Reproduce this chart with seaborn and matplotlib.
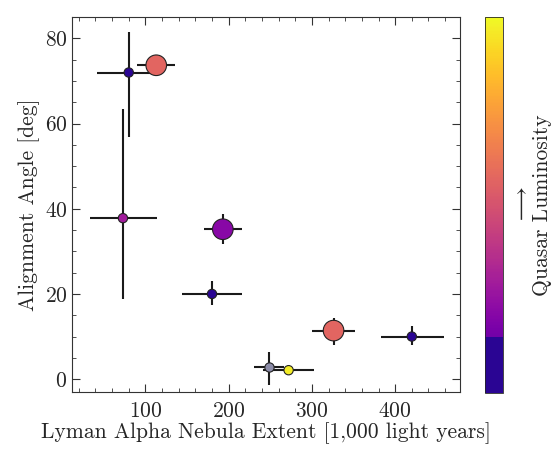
import numpy as np
import pandas as pd
import seaborn as sns
import matplotlib.pyplot as plt
from matplotlib.colors import ListedColormap, Normalize
from matplotlib.ticker import MultipleLocator
import warnings
warnings.filterwarnings("ignore")

# nebula extent [1,000 ly], alignment angle [deg] and their errors
extent = [80, 113, 73, 193, 180, 248, 272, 326, 420]
angle = [72, 73.7, 37.8, 35.2, 20, 2.9, 2.1, 11.4, 10]
extent_lo = [38, 23, 40, 23, 36.5, 18, 31, 26, 37.5]
extent_hi = [38, 23, 41, 23, 36.5, 18, 31, 26, 38.5]
angle_lo = [15.2, 2, 19, 3.5, 2.5, 4.3, 0, 3.5, 2.1]
angle_hi = [9.5, 2, 25.6, 3.5, 3, 3.5, 0, 3, 2.4]
luminosity = [0.05, 0.57, 0.29, 0.215, 0.05, 0.05, 0.967, 0.57, 0.05]
size_class = ["small", "large", "small", "large", "small", "faded", "small", "large", "small"]

sns.set_style("ticks")
plt.rcParams["font.family"] = "serif"
plt.rcParams["font.serif"] = ["cmr10", "DejaVu Serif"]
plt.rcParams["mathtext.fontset"] = "cm"
plt.rcParams["axes.formatter.use_mathtext"] = True
plt.rcParams["axes.unicode_minus"] = False

# plasma with a flat bottom block, like the reference colour bar
plasma = plt.get_cmap("plasma")
block = [plasma(0.05)] * 38
ramp = [plasma(v) for v in np.linspace(0.22, 1.0, 218)]
cmap = ListedColormap(block + ramp)
norm = Normalize(0, 1)

df = pd.DataFrame({"extent": extent, "angle": angle, "lum": luminosity, "cls": size_class})

fig = plt.figure(figsize=(5.55, 4.51), dpi=100)
ax = fig.add_axes([0.130, 0.131, 0.699, 0.831])
cax = fig.add_axes([0.874, 0.129, 0.033, 0.834])

ax.errorbar(extent, angle, xerr=[extent_lo, extent_hi], yerr=[angle_lo, angle_hi],
            fmt="none", ecolor="#1a1a1a", elinewidth=1.5, capsize=0, zorder=1)

main = df[df["cls"] != "faded"]
sns.scatterplot(data=main, x="extent", y="angle", hue="lum", palette=cmap, hue_norm=norm,
                size="cls", sizes={"small": 45, "large": 220}, edgecolor="#222222",
                linewidth=0.8, legend=False, ax=ax, zorder=3)
faded = df[df["cls"] == "faded"]
sns.scatterplot(data=faded, x="extent", y="angle", color="#8c8ca8",
                s=45, edgecolor="#222222", linewidth=0.8,
                legend=False, ax=ax, zorder=3)

ax.set_xlim(12, 478)
ax.set_ylim(-3, 85)
ax.xaxis.set_major_locator(MultipleLocator(100))
ax.xaxis.set_minor_locator(MultipleLocator(20))
ax.yaxis.set_major_locator(MultipleLocator(20))
ax.yaxis.set_minor_locator(MultipleLocator(5))
ax.tick_params(which="both", direction="in", top=True, right=True, labelsize=15.5, color="#333333")
ax.tick_params(which="major", length=6)
ax.tick_params(which="minor", length=3)
ax.tick_params(axis="x", which="major", pad=7)
for s in ax.spines.values():
    s.set_color("#333333")

ax.set_xlabel("Lyman Alpha Nebula Extent [1,000 light years]", fontsize=15.5, labelpad=1)
ax.set_ylabel("Alignment Angle [deg]", fontsize=15.5, labelpad=3)

sm = plt.cm.ScalarMappable(cmap=cmap, norm=norm)
cb = fig.colorbar(sm, cax=cax)
cb.set_ticks([])
cb.outline.set_linewidth(0.6)
cb.set_label("$\\longrightarrow$\nQuasar Luminosity", fontsize=15.5, linespacing=1.1, labelpad=6)

plt.savefig("out.png", dpi=100)
